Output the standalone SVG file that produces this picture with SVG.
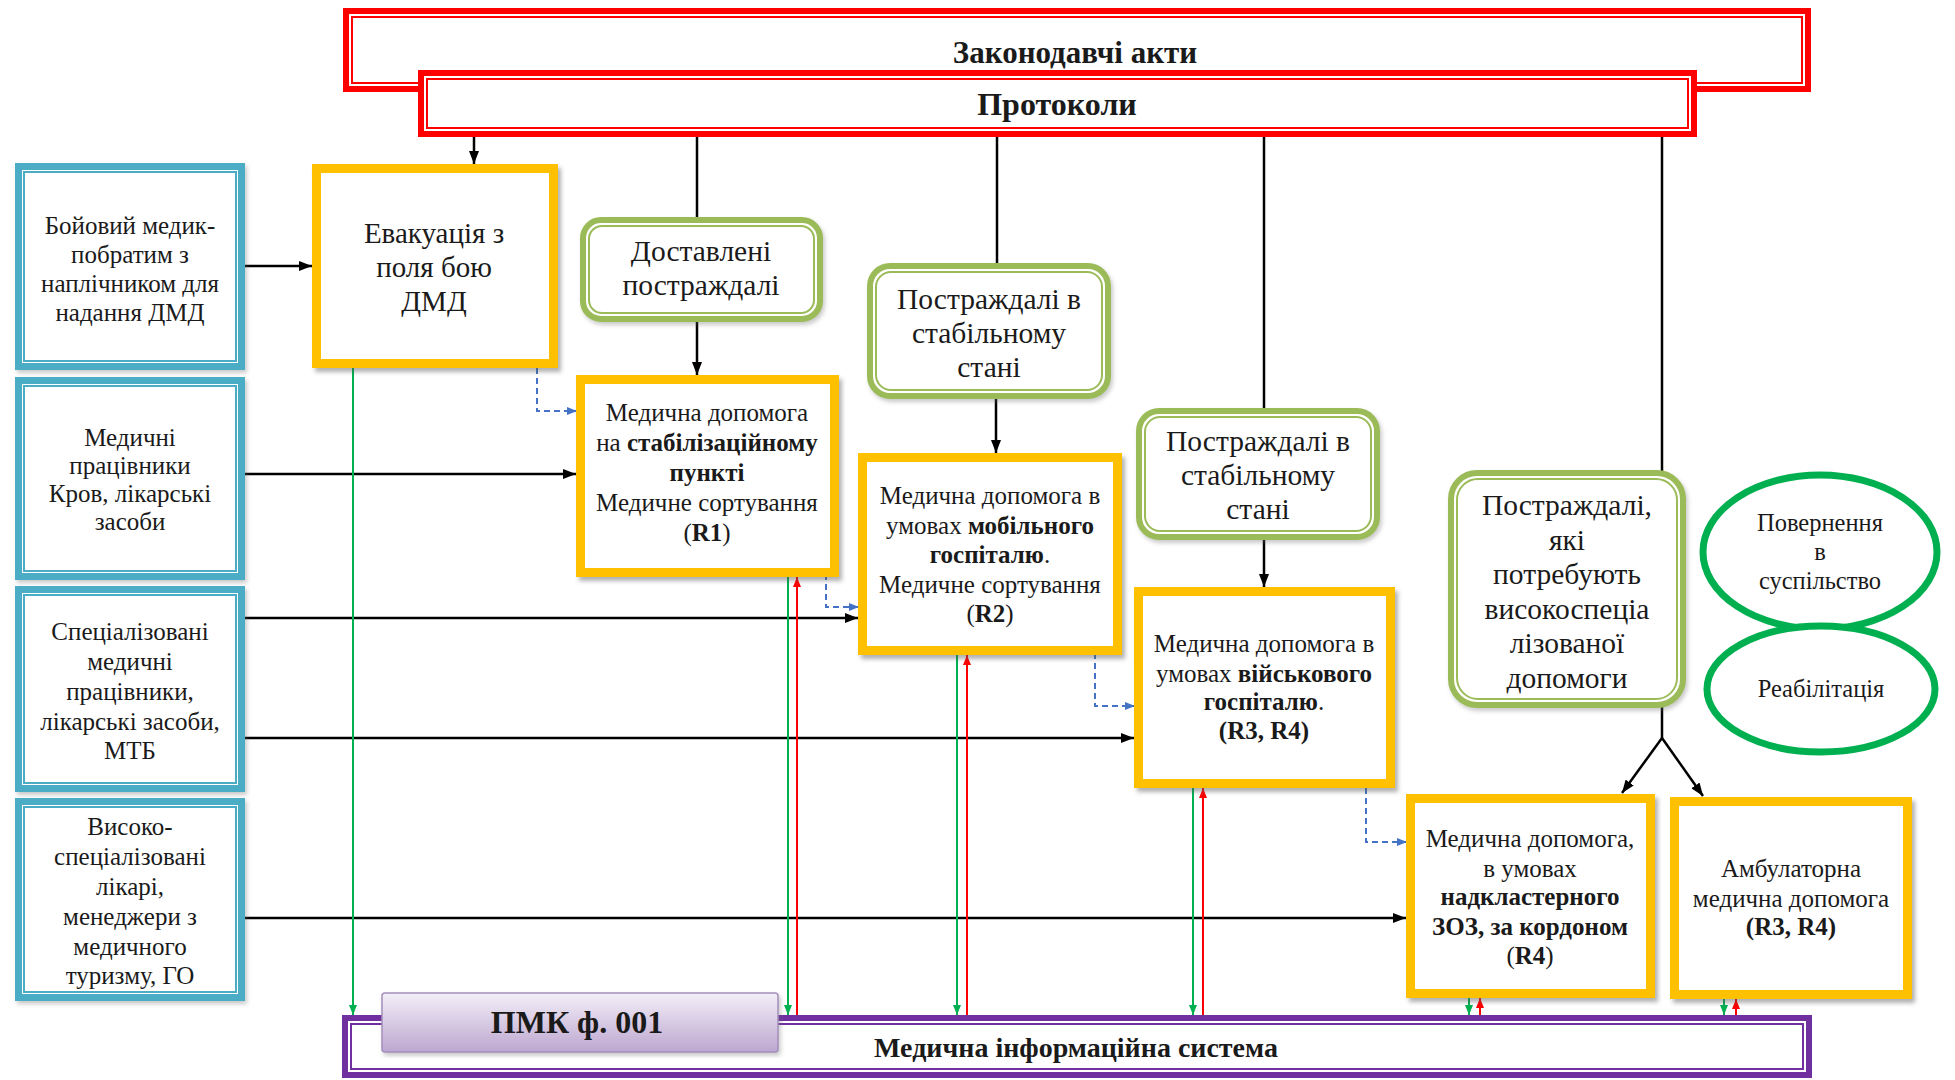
<svg xmlns="http://www.w3.org/2000/svg" width="1955" height="1080" viewBox="0 0 1955 1080">
<style>
.t{font-family:"Liberation Serif","Times New Roman",serif;fill:#1a1a1a;text-anchor:middle}
.f25{font-size:25px}.f29{font-size:29px}.f295{font-size:29.5px}.f245{font-size:24.5px}
.b{font-weight:bold}
.red{fill:#fff;stroke:#ff0000;stroke-width:6}
.redi{fill:none;stroke:#ff0000;stroke-width:2}
.pur{fill:#fff;stroke:#7030a0;stroke-width:6}
.puri{fill:none;stroke:#7030a0;stroke-width:2}
.blue{fill:#fff;stroke:#4bacc6;stroke-width:7}
.bluei{fill:none;stroke:#4bacc6;stroke-width:2}
.yel{fill:#fff;stroke:#ffc000;stroke-width:9}
.grn{fill:#fff;stroke:#9bbb59;stroke-width:6}
.grni{fill:none;stroke:#9bbb59;stroke-width:2}
.ell{fill:#fff;stroke:#00b050;stroke-width:7}
.k{fill:none;stroke:#000;stroke-width:2.5}
.ka{fill:none;stroke:#000;stroke-width:2.5;marker-end:url(#ak)}
.bd{fill:none;stroke:#4472c4;stroke-width:2;stroke-dasharray:6 4;marker-end:url(#ab)}
.gd{fill:none;stroke:#00b050;stroke-width:2;marker-end:url(#ag)}
.rd{fill:none;stroke:#ff0000;stroke-width:2;marker-end:url(#ar)}
</style>
<defs>
<marker id="ak" markerUnits="userSpaceOnUse" markerWidth="13" markerHeight="10" refX="13" refY="5" orient="auto"><path d="M0,0 L13,5 L0,10 z" fill="#000"/></marker>
<marker id="ab" markerUnits="userSpaceOnUse" markerWidth="10" markerHeight="8" refX="10" refY="4" orient="auto"><path d="M0,0 L10,4 L0,8 z" fill="#4472c4"/></marker>
<marker id="ag" markerUnits="userSpaceOnUse" markerWidth="10" markerHeight="8" refX="10" refY="4" orient="auto"><path d="M0,0 L10,4 L0,8 z" fill="#00b050"/></marker>
<marker id="ar" markerUnits="userSpaceOnUse" markerWidth="10" markerHeight="8" refX="10" refY="4" orient="auto"><path d="M0,0 L10,4 L0,8 z" fill="#ff0000"/></marker>
<linearGradient id="pmk" x1="0" y1="0" x2="0" y2="1">
<stop offset="0" stop-color="#f3eff7"/><stop offset="1" stop-color="#bda6d0"/>
</linearGradient>
<filter id="sh" x="-5%" y="-5%" width="112%" height="115%">
<feDropShadow dx="3" dy="4" stdDeviation="2" flood-color="#555" flood-opacity="0.45"/>
</filter>
<filter id="sh2" x="-5%" y="-5%" width="112%" height="115%">
<feDropShadow dx="2" dy="3" stdDeviation="2" flood-color="#666" flood-opacity="0.35"/>
</filter>
</defs>
<rect width="1955" height="1080" fill="#fff"/>

<g id="zakonodavchi">
<rect class="red" x="346" y="11" width="1462" height="78"/>
<rect class="redi" x="352" y="17" width="1450" height="66"/>
<text class="t b" x="1075" y="63" style="font-size:31px">Законодавчі акти</text>
</g>
<g id="protokoly">
<rect class="red" x="421" y="73" width="1273" height="61"/>
<rect class="redi" x="427" y="79" width="1261" height="49"/>
<text class="t b" x="1057" y="115" style="font-size:32px">Протоколи</text>
</g>

<g id="mis">
<rect class="pur" x="345" y="1018" width="1464" height="57"/>
<rect class="puri" x="351" y="1024" width="1452" height="45"/>
<text class="t b" x="1076" y="1057" style="font-size:28px">Медична інформаційна система</text>
</g>

<g id="connectors">
<line class="ka" x1="474" y1="137" x2="474" y2="164"/>
<line class="k" x1="697" y1="137" x2="697" y2="217"/>
<line class="ka" x1="697" y1="322" x2="697" y2="375"/>
<line class="k" x1="997" y1="137" x2="997" y2="263"/>
<line class="ka" x1="996" y1="399" x2="996" y2="453"/>
<line class="k" x1="1264" y1="137" x2="1264" y2="408"/>
<line class="ka" x1="1264" y1="540" x2="1264" y2="587"/>
<line class="k" x1="1662" y1="137" x2="1662" y2="472"/>
<line class="k" x1="1662" y1="706" x2="1662" y2="738"/>
<line class="ka" x1="1662" y1="738" x2="1622" y2="793"/>
<line class="ka" x1="1662" y1="738" x2="1703" y2="796"/>
<line class="ka" x1="245" y1="266" x2="312" y2="266"/>
<line class="ka" x1="245" y1="474" x2="576" y2="474"/>
<line class="ka" x1="245" y1="618" x2="858" y2="618"/>
<line class="ka" x1="245" y1="738" x2="1134" y2="738"/>
<line class="ka" x1="245" y1="918" x2="1406" y2="918"/>
<path class="bd" d="M537,358 V411 H577"/>
<path class="bd" d="M826,574 V607 H859"/>
<path class="bd" d="M1095,653 V706 H1135"/>
<path class="bd" d="M1366,788 V842 H1407"/>
<line class="gd" x1="353" y1="368" x2="353" y2="1015"/>
<line class="gd" x1="788" y1="577" x2="788" y2="1015"/>
<line class="rd" x1="797" y1="1015" x2="797" y2="577"/>
<line class="gd" x1="957" y1="655" x2="957" y2="1015"/>
<line class="rd" x1="967" y1="1015" x2="967" y2="655"/>
<line class="gd" x1="1193" y1="788" x2="1193" y2="1015"/>
<line class="rd" x1="1203" y1="1015" x2="1203" y2="788"/>
<line class="gd" x1="1469" y1="998" x2="1469" y2="1015"/>
<line class="rd" x1="1480" y1="1015" x2="1480" y2="998"/>
<line class="gd" x1="1724" y1="999" x2="1724" y2="1015"/>
<line class="rd" x1="1736" y1="1015" x2="1736" y2="999"/>
</g>

<g id="pmk001">
<rect x="382" y="993" width="396" height="59" rx="3" fill="url(#pmk)" stroke="#a48fbb" stroke-width="1.5" filter="url(#sh2)"/>
<text class="t b" x="577" y="1033" style="font-size:32px">ПМК ф. 001</text>
</g>

<g id="blue1">
<rect class="blue" x="18.5" y="166.5" width="223" height="200" filter="url(#sh2)"/>
<rect class="bluei" x="24" y="172" width="212" height="189"/>
<text class="t f25" x="130"><tspan x="130" y="234">Бойовий медик-</tspan><tspan x="130" y="263">побратим з</tspan><tspan x="130" y="292">наплічником для</tspan><tspan x="130" y="321">надання ДМД</tspan></text>
</g>
<g id="blue2">
<rect class="blue" x="18.5" y="380.5" width="223" height="196" filter="url(#sh2)"/>
<rect class="bluei" x="24" y="386" width="212" height="185"/>
<text class="t f25" x="130"><tspan x="130" y="446">Медичні</tspan><tspan x="130" y="474">працівники</tspan><tspan x="130" y="502">Кров, лікарські</tspan><tspan x="130" y="530">засоби</tspan></text>
</g>
<g id="blue3">
<rect class="blue" x="18.5" y="589.5" width="223" height="199" filter="url(#sh2)"/>
<rect class="bluei" x="24" y="595" width="212" height="188"/>
<text class="t f25" x="130"><tspan x="130" y="640">Спеціалізовані</tspan><tspan x="130" y="670">медичні</tspan><tspan x="130" y="700">працівники,</tspan><tspan x="130" y="730">лікарські засоби,</tspan><tspan x="130" y="759">МТБ</tspan></text>
</g>
<g id="blue4">
<rect class="blue" x="18.5" y="801.5" width="223" height="196" filter="url(#sh2)"/>
<rect class="bluei" x="24" y="807" width="212" height="185"/>
<text class="t f25" x="130"><tspan x="130" y="835">Високо-</tspan><tspan x="130" y="865">спеціалізовані</tspan><tspan x="130" y="895">лікарі,</tspan><tspan x="130" y="925">менеджери з</tspan><tspan x="130" y="955">медичного</tspan><tspan x="130" y="984">туризму, ГО</tspan></text>
</g>

<g id="evakuatsiia">
<rect class="yel" x="316.5" y="168.5" width="237" height="195" filter="url(#sh)"/>
<text class="t f29" x="434"><tspan x="434" y="243">Евакуація з</tspan><tspan x="434" y="277">поля бою</tspan><tspan x="434" y="311">ДМД</tspan></text>
</g>
<g id="r1">
<rect class="yel" x="580.5" y="379.5" width="254" height="193" filter="url(#sh)"/>
<text class="t f25" x="707"><tspan x="707" y="421">Медична допомога</tspan><tspan x="707" y="451">на <tspan class="b">стабілізаційному</tspan></tspan><tspan x="707" y="481" class="b">пункті</tspan><tspan x="707" y="511">Медичне сортування</tspan><tspan x="707" y="541">(<tspan class="b">R1</tspan>)</tspan></text>
</g>
<g id="r2">
<rect class="yel" x="862.5" y="457.5" width="255" height="193" filter="url(#sh)"/>
<text class="t f25" x="990"><tspan x="990" y="504">Медична допомога в</tspan><tspan x="990" y="534">умовах <tspan class="b">мобільного</tspan></tspan><tspan x="990" y="563"><tspan class="b">госпіталю</tspan>.</tspan><tspan x="990" y="593">Медичне сортування</tspan><tspan x="990" y="622">(<tspan class="b">R2</tspan>)</tspan></text>
</g>
<g id="r3r4">
<rect class="yel" x="1138.5" y="591.5" width="252" height="192" filter="url(#sh)"/>
<text class="t f25" x="1264"><tspan x="1264" y="652">Медична допомога в</tspan><tspan x="1264" y="682">умовах <tspan class="b">військового</tspan></tspan><tspan x="1264" y="710"><tspan class="b">госпіталю</tspan>.</tspan><tspan x="1264" y="739" class="b">(R3, R4)</tspan></text>
</g>
<g id="r4">
<rect class="yel" x="1410.5" y="798.5" width="240" height="195" filter="url(#sh)"/>
<text class="t f25" x="1530"><tspan x="1530" y="847">Медична допомога,</tspan><tspan x="1530" y="877">в умовах</tspan><tspan x="1530" y="905" class="b">надкластерного</tspan><tspan x="1530" y="935" class="b">ЗОЗ, за кордоном</tspan><tspan x="1530" y="964">(<tspan class="b">R4</tspan>)</tspan></text>
</g>
<g id="ambulatorna">
<rect class="yel" x="1674.5" y="801.5" width="233" height="193" filter="url(#sh)"/>
<text class="t f25" x="1791"><tspan x="1791" y="877">Амбулаторна</tspan><tspan x="1791" y="907">медична допомога</tspan><tspan x="1791" y="935" class="b">(R3, R4)</tspan></text>
</g>

<g id="dostavleni">
<rect class="grn" x="583" y="220" width="237" height="99" rx="18" filter="url(#sh2)"/>
<rect class="grni" x="589" y="226" width="225" height="87" rx="13"/>
<text class="t f295" x="701"><tspan x="701" y="261">Доставлені</tspan><tspan x="701" y="295">постраждалі</tspan></text>
</g>
<g id="postrazhdali1">
<rect class="grn" x="870" y="266" width="238" height="130" rx="20" filter="url(#sh2)"/>
<rect class="grni" x="876" y="272" width="226" height="118" rx="15"/>
<text class="t f295" x="989"><tspan x="989" y="309">Постраждалі в</tspan><tspan x="989" y="343">стабільному</tspan><tspan x="989" y="377">стані</tspan></text>
</g>
<g id="postrazhdali2">
<rect class="grn" x="1139" y="411" width="238" height="126" rx="20" filter="url(#sh2)"/>
<rect class="grni" x="1145" y="417" width="226" height="114" rx="15"/>
<text class="t f295" x="1258"><tspan x="1258" y="451">Постраждалі в</tspan><tspan x="1258" y="485">стабільному</tspan><tspan x="1258" y="519">стані</tspan></text>
</g>
<g id="postrazhdali3">
<rect class="grn" x="1451" y="473" width="232" height="232" rx="26" filter="url(#sh2)"/>
<rect class="grni" x="1457" y="479" width="220" height="220" rx="21"/>
<text class="t f295" x="1567"><tspan x="1567" y="515">Постраждалі,</tspan><tspan x="1567" y="550">які</tspan><tspan x="1567" y="584">потребують</tspan><tspan x="1567" y="619">високоспеціа</tspan><tspan x="1567" y="653">лізованої</tspan><tspan x="1567" y="688">допомоги</tspan></text>
</g>

<g id="povernennia">
<ellipse class="ell" cx="1820" cy="552" rx="117" ry="77"/>
<text class="t f245" x="1820"><tspan x="1820" y="531">Повернення</tspan><tspan x="1820" y="560">в</tspan><tspan x="1820" y="589">суспільство</tspan></text>
</g>
<g id="reabilitatsiia">
<ellipse class="ell" cx="1821" cy="689" rx="114" ry="63"/>
<text class="t f245" x="1821" y="697">Реабілітація</text>
</g>
</svg>
